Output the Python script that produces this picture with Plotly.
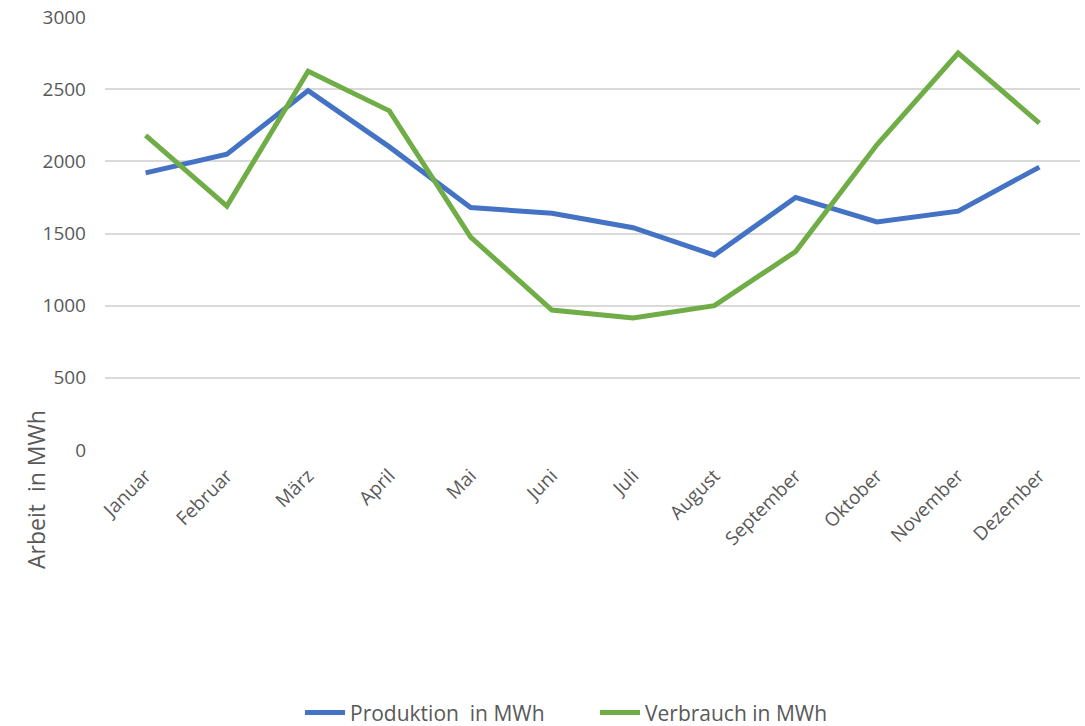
import plotly.graph_objects as go

months = ["Januar", "Februar", "März", "April", "Mai", "Juni", "Juli",
          "August", "September", "Oktober", "November", "Dezember"]
produktion = [1920, 2050, 2490, 2100, 1680, 1640, 1540, 1350, 1750, 1580, 1655, 1960]
verbrauch = [2180, 1690, 2625, 2350, 1475, 970, 915, 1000, 1375, 2115, 2750, 2265]
y_ticks = [0, 500, 1000, 1500, 2000, 2500, 3000]

FONT = "Open Sans"
GRAY = "#595959"

fig = go.Figure()
fig.add_trace(go.Scatter(x=months, y=produktion, mode="lines",
                         name="Produktion  in MWh",
                         line=dict(color="#4472C4", width=5)))
fig.add_trace(go.Scatter(x=months, y=verbrauch, mode="lines",
                         name="Verbrauch in MWh",
                         line=dict(color="#70AD47", width=5)))

fig.update_layout(
    width=1085, height=726,
    margin=dict(l=105, r=5, t=17, b=276),
    plot_bgcolor="white", paper_bgcolor="white",
    font=dict(family=FONT, size=18, color=GRAY),
    showlegend=True,
    legend=dict(orientation="h", x=(300 - 105) / 975, xanchor="left",
                yref="container", y=0.018, yanchor="middle",
                font=dict(size=21, color=GRAY), itemwidth=40,
                entrywidth=240, entrywidthmode="pixels",
                traceorder="normal"),
    xaxis=dict(type="category", range=[-0.5, 11.5], tickangle=-45,
               showgrid=False, showline=False, ticks="",
               ticklabelstandoff=10,
               tickfont=dict(size=19, color=GRAY)),
    yaxis=dict(range=[0, 3000], tickvals=y_ticks, showgrid=True,
               gridcolor="#D9D9D9", gridwidth=1.5, zeroline=False,
               showline=False, ticks="", ticklabelstandoff=18,
               tickfont=dict(size=19, color=GRAY)),
    annotations=[dict(text="Arbeit  in MWh", textangle=-90,
                      xref="paper", yref="paper",
                      x=(36 - 105) / 975, y=(450 - 490) / 433,
                      xanchor="center", yanchor="middle", showarrow=False,
                      font=dict(size=23, color=GRAY))],
)

fig.write_html("out.html")
